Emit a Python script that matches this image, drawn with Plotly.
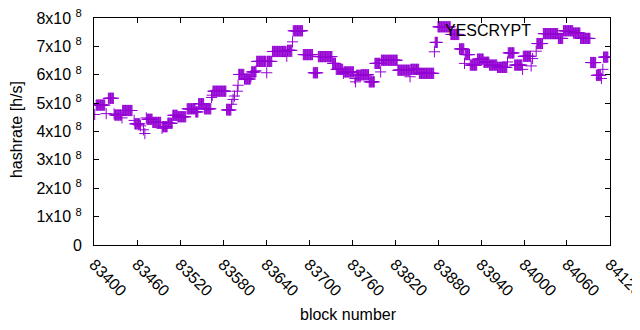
import plotly.graph_objects as go

# Runs of blocks that share one hashrate value
run_start = [83401, 83403, 83417, 83420, 83428, 83429, 83439, 83440, 83456, 83457,
             83465, 83469, 83471, 83473, 83474, 83482, 83495, 83496, 83503, 83510,
             83517, 83530, 83542, 83546, 83554, 83564, 83565, 83566, 83585, 83592,
             83594, 83596, 83600, 83601, 83602, 83610, 83619, 83620, 83626, 83627,
             83641, 83642, 83649, 83669, 83670, 83677, 83678, 83692, 83706, 83713,
             83733, 83738, 83748, 83749, 83764, 83765, 83766, 83773, 83784, 83792,
             83800, 83801, 83824, 83841, 83842, 83854, 83875, 83876, 83880, 83898,
             83910, 83917, 83918, 83925, 83935, 83944, 83952, 83963, 83977, 83978,
             83987, 83998, 83999, 84010, 84012, 84017, 84018, 84027, 84048, 84055,
             84069, 84079, 84093, 84101, 84102, 84108, 84110, 84111]
run_end = [83401, 83415, 83417, 83427, 83428, 83438, 83439, 83453, 83456, 83464,
           83465, 83469, 83471, 83473, 83481, 83493, 83495, 83502, 83509, 83516,
           83528, 83541, 83545, 83553, 83563, 83564, 83565, 83584, 83591, 83592,
           83594, 83596, 83600, 83601, 83609, 83618, 83619, 83625, 83626, 83640,
           83641, 83648, 83668, 83669, 83676, 83677, 83691, 83705, 83712, 83732,
           83737, 83747, 83748, 83762, 83764, 83765, 83772, 83783, 83791, 83799,
           83800, 83823, 83840, 83841, 83853, 83874, 83875, 83879, 83897, 83909,
           83916, 83917, 83924, 83934, 83943, 83951, 83962, 83976, 83977, 83986,
           83997, 83998, 84009, 84010, 84012, 84017, 84026, 84047, 84054, 84068,
           84078, 84092, 84100, 84101, 84107, 84108, 84110, 84117]
run_value = [4.60, 4.93, 4.63, 5.17, 4.62, 4.58, 4.48, 4.74, 4.39, 4.27,
             4.20, 4.06, 3.93, 4.48, 4.43, 4.32, 4.11, 4.17, 4.29, 4.57,
             4.52, 4.80, 4.69, 4.98, 4.80, 5.20, 5.28, 5.42, 4.76, 4.96,
             5.13, 5.25, 5.42, 5.63, 6.01, 5.85, 5.93, 6.10, 6.14, 6.47,
             6.07, 6.47, 6.82, 6.65, 6.86, 7.16, 7.55, 6.71, 6.07, 6.64,
             6.40, 6.19, 6.05, 6.10, 5.87, 5.75, 5.98, 6.00, 5.75, 6.40,
             6.10, 6.51, 6.16, 5.93, 6.19, 6.05, 6.81, 7.14, 7.69, 7.42,
             6.91, 6.40, 6.71, 6.34, 6.55, 6.44, 6.34, 6.26, 6.45, 6.77,
             6.34, 6.19, 6.65, 6.31, 6.57, 6.83, 7.10, 7.45, 7.28, 7.55,
             7.47, 7.28, 6.43, 5.98, 5.98, 5.87, 6.19, 6.62]  # units of 1e8 h/s

x_ticks = [83400, 83460, 83520, 83580, 83640, 83700, 83760, 83820, 83880, 83940,
           84000, 84060, 84120]
y_ticks = [0, 1e8, 2e8, 3e8, 4e8, 5e8, 6e8, 7e8, 8e8]
y_tick_text = ["0"] + [f"{i}x10 <sup>8</sup>" for i in range(1, 9)]

blocks, rates = [], []
for s, e, v in zip(run_start, run_end, run_value):
    for b in range(s, e + 1):
        blocks.append(b)
        rates.append(v * 1e8)

COLOR = "#9400D3"
FONT = "Liberation Sans, Arial, sans-serif"
FS = 16

fig = go.Figure()
fig.add_trace(go.Scatter(
    x=blocks, y=rates, mode="markers",
    marker=dict(symbol="cross-thin", size=8, line=dict(color=COLOR, width=1), color=COLOR),
    name="YESCRYPT", showlegend=False, hoverinfo="x+y"))

fig.update_layout(
    width=632, height=322,
    margin=dict(l=86, r=30, t=10, b=85),
    paper_bgcolor="white", plot_bgcolor="white",
    font=dict(family=FONT, size=FS, color="black"),
    xaxis=dict(range=[83399.99, 84120.01], tickvals=x_ticks, ticktext=[str(t) for t in x_ticks],
               tickangle=45, ticks="inside", ticklen=5, tickcolor="black",
               showline=True, linecolor="black", linewidth=1, mirror="ticks",
               showgrid=False, zeroline=False, tickfont=dict(size=FS), automargin=False,
               ticklabelstandoff=3, ticklabeloverflow="allow"),
    yaxis=dict(range=[0, 8e8], tickvals=y_ticks, ticktext=y_tick_text,
               ticks="inside", ticklen=5, tickcolor="black",
               showline=True, linecolor="black", linewidth=1, mirror="ticks",
               showgrid=False, zeroline=False, tickfont=dict(size=FS), automargin=False,
               ticklabelstandoff=8, ticklabeloverflow="allow"),
    annotations=[
        dict(text="hashrate [h/s]", xref="paper", yref="paper", x=-0.149, y=0.507,
             textangle=-90, showarrow=False, xanchor="center", yanchor="middle",
             font=dict(size=FS)),
        dict(text="block number", xref="paper", yref="paper", x=0.494, y=-0.308,
             showarrow=False, xanchor="center", yanchor="middle", font=dict(size=FS)),
        dict(text="YESCRYPT", xref="paper", yref="paper", x=0.851, y=0.943,
             showarrow=False, xanchor="right", yanchor="middle", font=dict(size=FS)),
    ],
)

fig.write_html("out.html")
